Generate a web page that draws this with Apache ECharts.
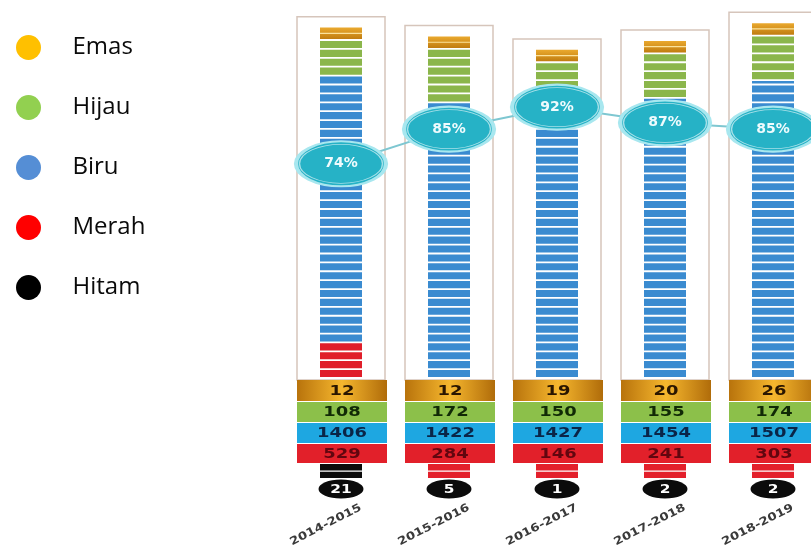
<!DOCTYPE html>
<html><head><meta charset="utf-8">
<script src="https://cdn.jsdelivr.net/npm/echarts@6/dist/echarts.min.js"></script>
<style>html,body{margin:0;padding:0;background:#fff}#c{width:811px;height:545px}</style>
</head><body><div id="c"></div>
<script>
const categories = ['2014-2015', '2015-2016', '2016-2017', '2017-2018', '2018-2019'];
const emas   = [12, 12, 19, 20, 26];
const hijau  = [108, 172, 150, 155, 174];
const biru   = [1406, 1422, 1427, 1454, 1507];
const merah  = [529, 284, 146, 241, 303];
const hitam  = [21, 5, 1, 2, 2];
const persen = [74, 85, 92, 87, 85];
// tube segment lengths, counted in stripes
const emasStripes  = [1.5, 1.5, 1.5, 1.5, 1.5];
const hijauStripes = [4, 6, 3, 5, 5];
const biruStripes  = [30, 31, 32.5, 31.5, 33.5];
const merahStripes = [4, 0, 0, 0, 0];
const stubOwner    = ['Hitam', 'Merah', 'Merah', 'Merah', 'Merah'];
const legendNames  = ['Emas', 'Hijau', 'Biru', 'Merah', 'Hitam'];

const legendColors = {Emas:'#FFC000', Hijau:'#92D050', Biru:'#558ED5', Merah:'#FF0000', Hitam:'#000000'};
const TUBE_W = 42, BAND_W = 90, SX = 1.28;
const numFont = 'bold 14px "DejaVu Sans"';

function stripeRects(cx, by, unit, start, n, fill) {
  const out = [];
  for (let k = 0; k < n; k += 1) {
    const f = Math.min(1, n - k);
    const yb = by - (start + k) * unit;
    const h = f * unit;
    out.push({type:'rect', shape:{x:cx - TUBE_W/2, y:yb - h + 0.9, width:TUBE_W, height:Math.max(h - 1.8, 0.6)},
      style:{fill:fill}});
  }
  return out;
}
function bandEls(cx, by, top, h, fill, text, color) {
  return [
    {type:'rect', shape:{x:cx - 44, y:by + top, width:BAND_W, height:h}, style:{fill:fill}},
    {type:'text', x:cx + 1, y:by + top + h/2 + 0.5, scaleX:SX,
      style:{text:String(text), x:0, y:0, align:'center', verticalAlign:'middle', fill:color, font:numFont}}
  ];
}
function stubEls(cx, by, fill, line) {
  return [
    {type:'rect', shape:{x:cx - TUBE_W/2, y:by + 86, width:TUBE_W, height:14}, style:{fill:fill}},
    {type:'rect', shape:{x:cx - TUBE_W/2, y:by + 92.5, width:TUBE_W, height:1.3}, style:{fill:line}}
  ];
}
const goldH = new echarts.graphic.LinearGradient(0, 0, 1, 0, [
  {offset:0, color:'#b8730c'}, {offset:0.5, color:'#f6b72e'}, {offset:1, color:'#b06c0a'}]);
const goldV = new echarts.graphic.LinearGradient(0, 0, 0, 1, [
  {offset:0, color:'#eaa92e'}, {offset:1, color:'#c07c10'}]);

function makeRender(name) {
  return function (params, api) {
    const i = api.value(0);
    const p = api.coord([i, 0]);
    const cx = p[0], by = p[1];
    const unit = api.size([0, 1])[1];
    const r = merahStripes[i], b = biruStripes[i], g = hijauStripes[i], e = emasStripes[i];
    let ch = [];
    if (name === 'Frame') {
      const top = by - (r + b + g + e) * unit - 10;
      ch.push({type:'rect', shape:{x:cx - 44, y:top, width:88, height:by + 2 - top},
        style:{fill:'none', stroke:'#d6c5bb', lineWidth:1.5}});
      ch.push({type:'text', x:cx + 20, y:by + 129, rotation:27 * Math.PI / 180, scaleX:1.2,
        style:{text:categories[i], x:0, y:0, align:'right', verticalAlign:'middle',
          fill:'#3a3a3a', font:'bold 11px "DejaVu Sans"'}});
    } else if (name === 'Emas') {
      const y0 = by - (r + b + g + e) * unit + 0.9;
      const h = e * unit - 1.8;
      ch.push({type:'rect', shape:{x:cx - TUBE_W/2, y:y0, width:TUBE_W, height:h}, style:{fill:goldV}});
      ch.push({type:'rect', shape:{x:cx - TUBE_W/2, y:y0 + h/2 - 0.6, width:TUBE_W, height:1.2}, style:{fill:'rgba(255,235,170,0.9)'}});
      ch = ch.concat(bandEls(cx, by, 2, 21, goldH, emas[i], '#2a1600'));
    } else if (name === 'Hijau') {
      ch = ch.concat(stripeRects(cx, by, unit, r + b, g, '#8bb64b'));
      ch = ch.concat(bandEls(cx, by, 24, 20, '#8cc04a', hijau[i], '#112a06'));
    } else if (name === 'Biru') {
      ch = ch.concat(stripeRects(cx, by, unit, r, b, '#3a8bd0'));
      ch = ch.concat(bandEls(cx, by, 45, 20, '#1ea7e1', biru[i], '#0a2548'));
    } else if (name === 'Merah') {
      ch = ch.concat(stripeRects(cx, by, unit, 0, r, '#e01e2a'));
      ch = ch.concat(bandEls(cx, by, 66, 19, '#e2202a', merah[i], '#62060f'));
      if (stubOwner[i] === 'Merah') ch = ch.concat(stubEls(cx, by, '#e3202b', '#ffffff'));
    } else if (name === 'Hitam') {
      if (stubOwner[i] === 'Hitam') ch = ch.concat(stubEls(cx, by, '#0b0b0b', '#ffffff'));
      ch.push({type:'ellipse', shape:{cx:cx, cy:by + 111, rx:22.5, ry:9.5}, style:{fill:'#0b0b0b'}});
      ch.push({type:'text', x:cx, y:by + 111.5, scaleX:SX,
        style:{text:String(hitam[i]), x:0, y:0, align:'center', verticalAlign:'middle', fill:'#ffffff', font:'bold 12px "DejaVu Sans"'}});
    }
    return {type:'group', children:ch};
  };
}
const rows = categories.map((c, i) => [i, 0]);
function customSeries(name, z) {
  return {type:'custom', name:name, renderItem:makeRender(name), data:rows, encode:{x:0, y:1},
    itemStyle:{color:legendColors[name] || '#ccc'}, z:z, silent:true, clip:false};
}
const ellipse = 'path://M0,25A50,25,0,1,0,100,25A50,25,0,1,0,0,25Z';

const chart = echarts.init(document.getElementById('c'), null, {renderer:'canvas'});
chart.setOption({
  animation:false,
  backgroundColor:'#ffffff',
  legend:{orient:'vertical', left:11, top:30, icon:'circle', itemWidth:28, itemHeight:25, itemGap:35,
    data:legendNames, selectedMode:false,
    textStyle:{fontSize:24, fontFamily:'Open Sans', color:'#0a0a0a', padding:[0, 0, 0, 25]}},
  grid:{left:287, top:0, width:540, height:378, outerBoundsMode:'none', containLabel:false},
  xAxis:{type:'category', data:categories, axisLine:{show:false}, axisTick:{show:false}, axisLabel:{show:false}, splitLine:{show:false}},
  yAxis:[
    {type:'value', min:0, max:42.5, show:false},
    {type:'value', min:6, max:126, show:false}
  ],
  series:[
    customSeries('Frame', 1),
    customSeries('Merah', 2),
    customSeries('Biru', 2),
    customSeries('Hijau', 2),
    customSeries('Emas', 2),
    customSeries('Hitam', 2),
    {type:'line', name:'Persen', yAxisIndex:1, data:persen, symbol:ellipse, symbolSize:[90, 45],
      lineStyle:{color:'#7ec7d1', width:2}, itemStyle:{color:'#26b2c6', borderColor:'#a8e7ef', borderWidth:3},
      label:{show:true, position:'inside', formatter:'{c}%', color:'#effbfd', fontWeight:'bold', fontSize:14, fontFamily:'DejaVu Sans'},
      z:10, silent:true},
    {type:'scatter', name:'Cincin', yAxisIndex:1, data:persen, symbol:ellipse, symbolSize:[83, 39],
      itemStyle:{color:'rgba(0,0,0,0)', borderColor:'rgba(255,255,255,0.75)', borderWidth:1}, z:11, silent:true}
  ]
});
</script></body></html>
